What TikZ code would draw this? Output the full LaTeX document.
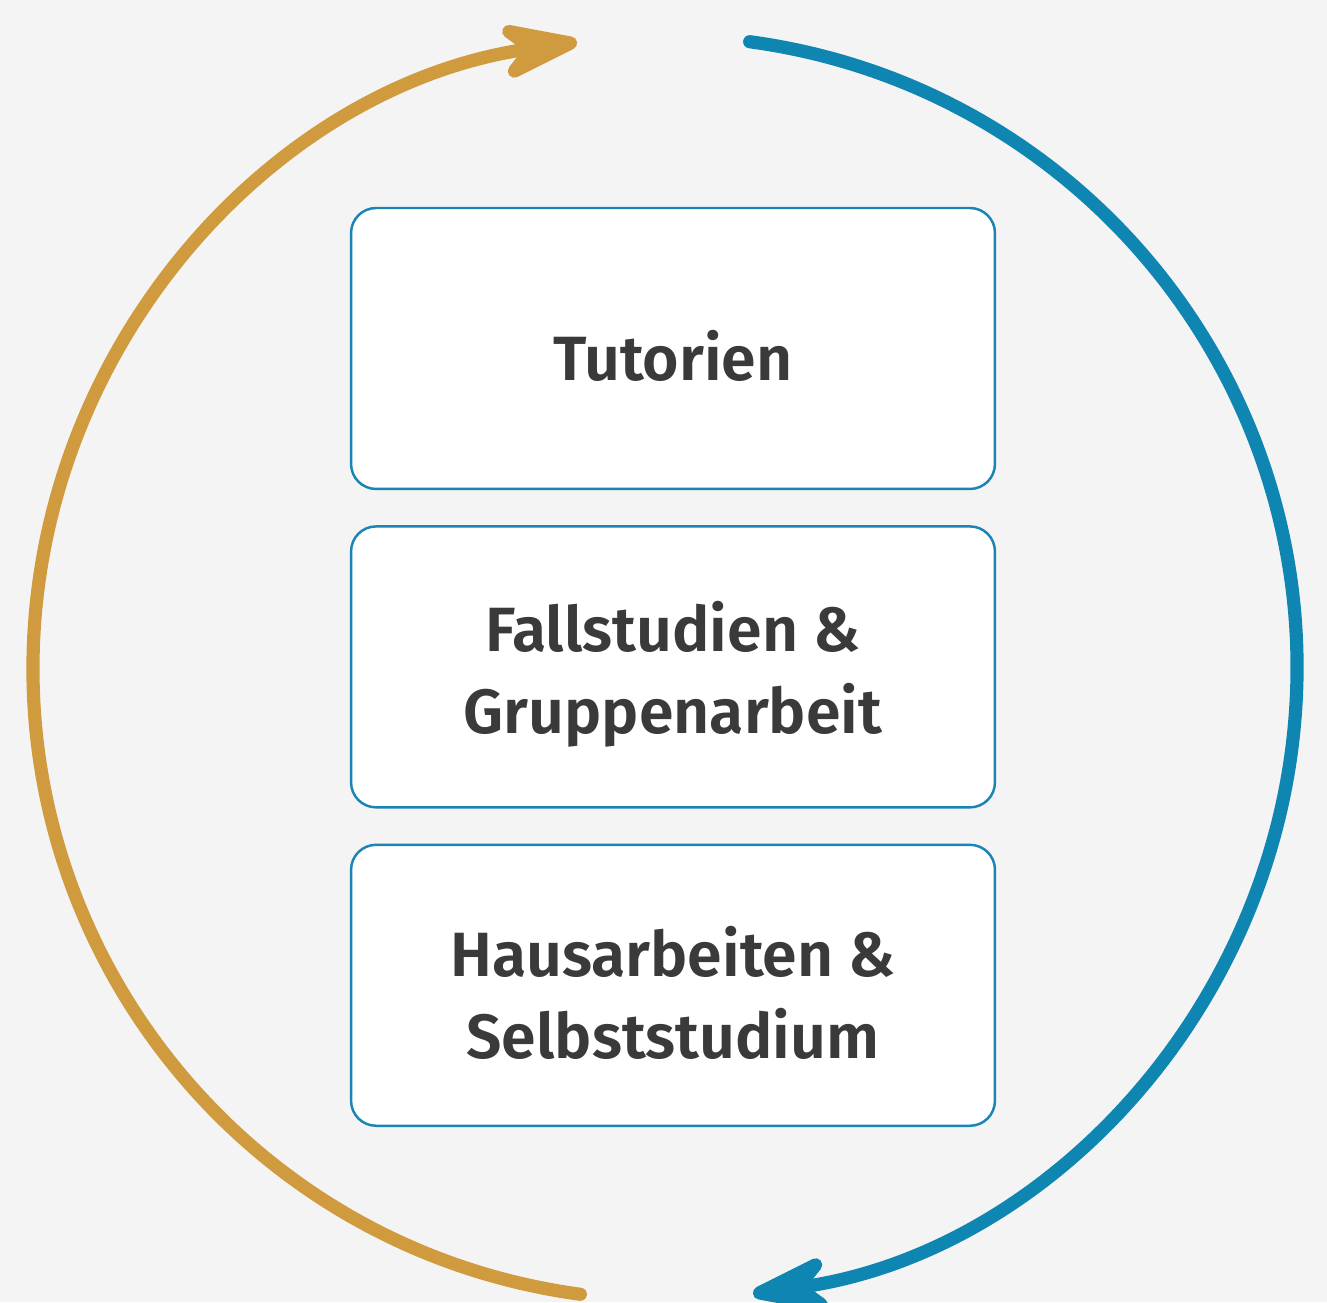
\documentclass[tikz,border=0pt]{standalone}
\usepackage{fontspec}
\setmainfont{Fira Sans}[BoldFont={Fira Sans SemiBold}]
\usetikzlibrary{positioning,arrows.meta}
\definecolor{bgray}{HTML}{F4F4F4}
\definecolor{ringgold}{HTML}{D09B3F}
\definecolor{ringblue}{HTML}{0F86B2}
\definecolor{boxline}{HTML}{1A84B5}
\definecolor{txtgray}{HTML}{3A3A3A}
\tikzset{
	unit/.style={draw=boxline, line width=1.4pt, fill=white, rounded corners=0.5cm,
		minimum width=12.88cm, minimum height=5.62cm, align=center, text height=1.3cm,
		text=txtgray, font=\fontsize{35.6}{46.7}\selectfont\bfseries},
	twoline/.style={unit, text height=2.95cm},
	ring/.style={line width=7.5pt, line cap=round,
		-{Stealth[length=2.1cm, width=1.4cm, inset=0.72cm, round]}}
}
\begin{document}
\begin{tikzpicture}[x=0.02cm, y=0.02cm]
	\fill[bgray] (0, 0) rectangle (1327, 1302);
	\useasboundingbox (0, 0) rectangle (1327, 1302);

	\node[unit] (tut) at (673, 953.5) {Tutorien};
	\node[twoline, below=0.7cm of tut] (fall) {Fallstudien \&\\Gruppenarbeit};
	\node[twoline, below=0.7cm of fall] (haus) {Hausarbeiten \&\\Selbststudium};

	\draw[ring, ringgold] (665, 634) ++(262.3:632) arc[start angle=262.3, end angle=98, radius=632];
	\draw[ring, ringblue] (665, 634) ++(82.3:632) arc[start angle=82.3, end angle=-82, radius=632];
\end{tikzpicture}
\end{document}
